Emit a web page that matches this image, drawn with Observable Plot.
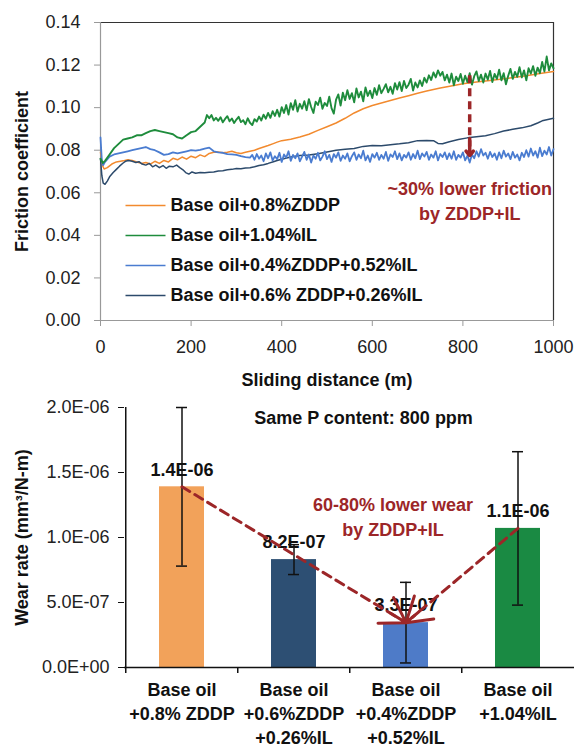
<!DOCTYPE html>
<html><head><meta charset="utf-8">
<script src="https://cdn.jsdelivr.net/npm/d3@7"></script>
<script src="https://cdn.jsdelivr.net/npm/@observablehq/plot@0.6"></script>
<style>
html,body{margin:0;padding:0;background:#fff;}
#chart{width:574px;height:751px;overflow:hidden;font-family:"Liberation Sans",Arial,sans-serif;}
#chart svg{display:block;}
</style></head><body><div id="chart"></div>
<script>
// ---------- Top chart: friction coefficient vs sliding distance ----------
const seriesNames = ["Base oil+0.8%ZDDP", "Base oil+1.04%IL", "Base oil+0.4%ZDDP+0.52%IL", "Base oil+0.6% ZDDP+0.26%IL"];
const seriesColors = ["#f28a2e", "#1e8c3c", "#4a7cd0", "#2c4a6b"];
const seriesWidths = [1.5, 1.9, 1.8, 1.5];
const xTicks = [0, 200, 400, 600, 800, 1000];
const yTicks = [0, 0.02, 0.04, 0.06, 0.08, 0.10, 0.12, 0.14];

const orangeD = [0,4,8,15,25,35,50,60,70,80,90,100,110,120,130,140,150,160,170,180,190,200,210,220,230,240,250,260,270,280,290,300,310,320,330,340,350,360,370,380,390,400,420,440,460,480,500,520,540,560,580,600,620,640,660,680,700,720,750,780,800,830,860,900,940,970,1000];
const orangeF = [0.079,0.073,0.0712,0.0718,0.0735,0.0745,0.075,0.0755,0.0752,0.0745,0.0738,0.0742,0.0735,0.0748,0.0738,0.0752,0.0745,0.0762,0.0755,0.0768,0.0758,0.0772,0.0765,0.0778,0.0770,0.0785,0.0790,0.0792,0.0788,0.0790,0.0795,0.0788,0.0785,0.0790,0.0795,0.0800,0.0808,0.0815,0.0822,0.0830,0.0838,0.0845,0.0852,0.0862,0.0875,0.0893,0.0910,0.0928,0.0950,0.0975,0.0995,0.1010,0.1022,0.1034,0.1045,0.1056,0.1068,0.1078,0.1092,0.1104,0.1112,0.1120,0.1128,0.1138,0.1150,0.1160,0.1170];

const darkD = [0,3,6,10,15,20,28,35,42,50,55,62,70,78,85,92,100,108,115,122,130,138,145,152,160,168,175,182,188,195,202,210,220,230,240,250,260,270,280,290,300,310,320,330,340,350,360,370,380,390,400,420,440,460,480,500,520,540,560,580,600,620,640,660,680,700,720,735,745,755,770,790,810,830,850,870,890,910,930,950,965,975,990,1000];
const darkF = [0.076,0.068,0.0645,0.064,0.0655,0.0675,0.0695,0.071,0.0725,0.074,0.0748,0.0752,0.0748,0.0742,0.0746,0.0735,0.0730,0.0738,0.0722,0.0730,0.0718,0.0728,0.0715,0.0725,0.0722,0.0730,0.0718,0.0708,0.0695,0.0688,0.0698,0.0692,0.0695,0.0694,0.0697,0.0698,0.0702,0.0704,0.0708,0.0710,0.0714,0.0713,0.0716,0.0718,0.0722,0.0728,0.0732,0.0738,0.0745,0.0752,0.0758,0.0768,0.0775,0.0778,0.0783,0.0792,0.0800,0.0804,0.0808,0.0818,0.0822,0.0821,0.0826,0.0830,0.0835,0.0845,0.0846,0.0845,0.0832,0.0830,0.0840,0.0850,0.0858,0.0863,0.0868,0.0878,0.0890,0.0898,0.0905,0.0915,0.0928,0.0938,0.0945,0.0950];

// green: smooth start, then noisy readings every 5 m from 255 m
const greenD = [0,5,10,20,30,40,50,60,70,80,90,100,110,120,130,140,150,160,170,180,190,200,210,220,230,235,240,245,250];
const greenF = [0.076,0.074,0.075,0.078,0.081,0.083,0.085,0.0855,0.086,0.087,0.087,0.088,0.089,0.0895,0.089,0.0885,0.088,0.0875,0.086,0.0855,0.087,0.0885,0.089,0.091,0.093,0.0965,0.095,0.0965,0.094];
const greenNoisyStart = 255;
const noisyStep = 5;
const greenNoisyF = [
0.0952,0.0938,0.0955,0.0931,0.0947,0.0960,0.0936,0.0949,0.0928,0.0944,
0.0957,0.0932,0.0941,0.0922,0.0950,0.0929,0.0918,0.0946,0.0935,0.0958,
0.0940,0.0967,0.0948,0.0975,0.0952,0.0983,0.0961,0.0990,0.0958,0.1002,
0.0975,0.1012,0.0968,0.1021,0.0990,0.1035,0.0982,0.1018,0.0995,0.1030,
0.0988,0.1040,0.1003,0.0975,0.1028,0.1012,0.1047,0.0995,0.1022,0.1008,
0.1051,0.0998,0.0972,0.1038,0.1062,0.1010,0.1070,0.1035,0.1082,0.1041,
0.1068,0.1025,0.1090,0.1048,0.1075,0.1030,0.1095,0.1055,0.1080,0.1045,
0.1092,0.1060,0.1105,0.1068,0.1088,0.1110,0.1072,0.1098,0.1065,0.1115,
0.1085,0.1120,0.1078,0.1125,0.1092,0.1108,0.1135,0.1080,0.1118,0.1095,
0.1128,0.1102,0.1140,0.1118,0.1152,0.1130,0.1165,0.1142,0.1175,0.1150,
0.1168,0.1128,0.1155,0.1118,0.1160,0.1105,0.1145,0.1125,0.1158,0.1112,
0.1150,0.1120,0.1162,0.1108,0.1148,0.1170,0.1125,0.1155,0.1118,0.1160,
0.1132,0.1172,0.1120,0.1158,0.1135,0.1178,0.1128,0.1162,0.1110,0.1150,
0.1182,0.1135,0.1168,0.1145,0.1190,0.1142,0.1175,0.1128,0.1185,0.1160,
0.1195,0.1150,0.1188,0.1162,0.1215,0.1170,0.1240,0.1175,0.1208,0.1185];

// light blue: smooth start, then noisy readings every 5 m from 335 m
const blueD = [0,3,6,10,20,30,40,50,60,70,80,90,100,110,120,130,140,150,160,170,180,190,200,210,220,230,240,250,260,270,280,290,300,310,320,330];
const blueF = [0.086,0.075,0.073,0.0745,0.077,0.078,0.0785,0.079,0.0795,0.080,0.0805,0.081,0.0815,0.0805,0.080,0.079,0.0778,0.0782,0.079,0.0785,0.079,0.0795,0.080,0.0798,0.0802,0.0808,0.0812,0.0795,0.0790,0.0788,0.0782,0.0780,0.0778,0.0772,0.0768,0.0765];
const blueNoisyStart = 335;
const blueNoisyF = [
0.0778,0.0755,0.0782,0.0760,0.0775,0.0748,0.0785,0.0762,0.0790,0.0752,
0.0772,0.0758,0.0788,0.0745,0.0780,0.0765,0.0795,0.0750,0.0778,0.0762,
0.0785,0.0748,0.0770,0.0792,0.0755,0.0780,0.0742,0.0775,0.0760,0.0788,
0.0752,0.0770,0.0795,0.0758,0.0778,0.0745,0.0782,0.0765,0.0790,0.0750,
0.0775,0.0760,0.0785,0.0748,0.0772,0.0790,0.0755,0.0780,0.0762,0.0798,
0.0752,0.0775,0.0745,0.0782,0.0765,0.0788,0.0755,0.0778,0.0760,0.0792,
0.0750,0.0780,0.0768,0.0795,0.0758,0.0785,0.0752,0.0778,0.0765,0.0790,
0.0755,0.0782,0.0762,0.0798,0.0758,0.0785,0.0770,0.0792,0.0755,0.0780,
0.0765,0.0795,0.0752,0.0782,0.0768,0.0790,0.0758,0.0785,0.0760,0.0795,
0.0755,0.0778,0.0765,0.0790,0.0752,0.0775,0.0742,0.0780,0.0762,0.0795,
0.0770,0.0805,0.0775,0.0788,0.0760,0.0792,0.0768,0.0785,0.0755,0.0790,
0.0762,0.0798,0.0770,0.0785,0.0758,0.0792,0.0765,0.0780,0.0752,0.0788,
0.0768,0.0800,0.0770,0.0808,0.0775,0.0795,0.0765,0.0812,0.0772,0.0798,
0.0780,0.0815,0.0775,0.0805];

// friction annotation
const frictionArrow = {x: 815, yStart: 0.115, yEnd: 0.0775};
const frictionNote = {x: 815, y: 0.057, text: "~30% lower friction\nby ZDDP+IL"};

// ---------- Bottom chart: wear rate ----------
const categories = ["Base oil\n+0.8% ZDDP", "Base oil\n+0.6%ZDDP\n+0.26%IL", "Base oil\n+0.4%ZDDP\n+0.52%IL", "Base oil\n+1.04%IL"];
const wearValues = [1.39e-6, 0.83e-6, 0.345e-6, 1.07e-6];
const wearErrors = [0.61e-6, 0.115e-6, 0.31e-6, 0.59e-6];
const wearLabels = ["1.4E-06", "8.2E-07", "3.3E-07", "1.1E-06"];
const barColors = ["#f2a25a", "#2d4f73", "#4e7bc8", "#1a8a43"];
const wearTicks = [0, 5e-7, 1e-6, 1.5e-6, 2e-6];
const wearNote = {cat: 2, y: 1.17e-6, text: "60-80% lower wear\nby ZDDP+IL"};
const headerNote = "Same P content: 800 ppm";

// ---------- build rows ----------
const rows = [];
function addSeries(name, D, F) { D.forEach((d, i) => rows.push({series: name, d, f: F[i]})); }
function addNoisy(name, start, F) { F.forEach((f, i) => rows.push({series: name, d: start + i * noisyStep, f})); }
addSeries(seriesNames[0], orangeD, orangeF);
addSeries(seriesNames[1], greenD, greenF);
addNoisy(seriesNames[1], greenNoisyStart, greenNoisyF);
addSeries(seriesNames[2], blueD, blueF);
addNoisy(seriesNames[2], blueNoisyStart, blueNoisyF);
addSeries(seriesNames[3], darkD, darkF);

const RED = "#9c2628";
const FONT = "'Liberation Sans', Arial, sans-serif";
const lineSymbol = {draw(ctx) { ctx.moveTo(-20, 0); ctx.lineTo(20, 0); }};

const drawOrder = [0, 3, 2, 1];
const lineMarks = drawOrder.map(k => Plot.line(rows.filter(r => r.series === seriesNames[k]), {x: "d", y: "f", stroke: seriesColors[k], strokeWidth: seriesWidths[k], strokeLinejoin: "round"}));
const legendMarks = [];
seriesNames.forEach((name, i) => {
  legendMarks.push(Plot.dot([name], {frameAnchor: "top-left", dx: 45, dy: 183 + i * 30, symbol: lineSymbol, stroke: seriesColors[i], fill: "none", strokeWidth: 1.5}));
  legendMarks.push(Plot.text([name], {frameAnchor: "top-left", dx: 70, dy: 183 + i * 30, text: d => d, textAnchor: "start", lineAnchor: "middle", fontWeight: "bold", fontSize: 18, fill: "#111"}));
});

const topChart = Plot.plot({
  width: 574, height: 392,
  marginLeft: 100, marginRight: 21, marginTop: 22, marginBottom: 72,
  style: {fontFamily: FONT, fontSize: "18px", background: "#fff", color: "#222"},
  x: {domain: [0, 1000]},
  y: {domain: [0, 0.14]},
  marks: [
    Plot.ruleY([0.14], {stroke: "#333", strokeWidth: 1.2}),
    Plot.ruleX([1000], {stroke: "#333", strokeWidth: 1.2}),
    Plot.ruleX([0], {stroke: "#999", strokeWidth: 1.2}),
    Plot.ruleY([0], {stroke: "#999", strokeWidth: 1.2}),
    Plot.axisY({ticks: yTicks, tickSize: 6, tickPadding: 14, tickFormat: d => d.toFixed(2), stroke: "#999", fill: "#222", label: null, fontSize: 18}),
    Plot.axisX({ticks: xTicks, tickSize: 6, tickPadding: 14, tickFormat: d => String(d), stroke: "#999", fill: "#222", label: null, fontSize: 18}),
    ...lineMarks,
    ...legendMarks,
    Plot.ruleX([frictionArrow], {x: "x", y1: "yStart", y2: d => d.yEnd + 0.004, stroke: RED, strokeWidth: 3.5, strokeDasharray: "8,5"}),
    Plot.arrow([frictionArrow], {x1: "x", x2: "x", y1: d => d.yEnd + 0.008, y2: "yEnd", stroke: RED, strokeWidth: 3.5, headLength: 16, headAngle: 80}),
    Plot.text([frictionNote], {x: "x", y: "y", text: "text", fill: RED, fontWeight: "bold", fontSize: 18, lineHeight: 1.4, lineAnchor: "middle"}),
    Plot.text(["Friction coefficient"], {frameAnchor: "left", dx: -78, rotate: -90, text: d => d, textAnchor: "middle", fontWeight: "bold", fontSize: 18, fill: "#111"}),
    Plot.text(["Sliding distance (m)"], {frameAnchor: "bottom", dy: 60, text: d => d, fontWeight: "bold", fontSize: 18, fill: "#111", lineAnchor: "middle"})
  ]
});

const fmtE = v => {
  const [m, e] = v.toExponential(1).split("e");
  const s = e[0] === "-" ? "-" : "+";
  return `${m}E${s}${String(Math.abs(+e)).padStart(2, "0")}`;
};

const bars = categories.map((c, i) => ({cat: c, value: wearValues[i], lo: wearValues[i] - wearErrors[i], hi: wearValues[i] + wearErrors[i], label: wearLabels[i], color: barColors[i]}));
const halfStep = 56.25;

const bottomChart = Plot.plot({
  width: 574, height: 359,
  marginLeft: 124, marginRight: 0, marginTop: 15, marginBottom: 84,
  style: {fontFamily: FONT, fontSize: "18px", background: "#fff", color: "#111"},
  x: {domain: categories, paddingInner: 0.6, paddingOuter: 0.3},
  y: {domain: [0, 2e-6]},
  color: {type: "identity"},
  marks: [
    Plot.barY(bars, {x: "cat", y: "value", fill: "color"}),
    Plot.text(bars, {x: "cat", y: "value", text: "label", dy: -17, fontWeight: "bold", fontSize: 18, fill: "#111"}),
    Plot.ruleX(bars, {x: "cat", y1: "lo", y2: "hi", stroke: "#111", strokeWidth: 1.5}),
    Plot.tickY(bars, {x: "cat", y: "lo", stroke: "#111", strokeWidth: 1.5, insetLeft: 17, insetRight: 17}),
    Plot.tickY(bars, {x: "cat", y: "hi", stroke: "#111", strokeWidth: 1.5, insetLeft: 17, insetRight: 17}),
    Plot.ruleY([0], {stroke: "#111", strokeWidth: 1.5}),
    Plot.ruleX([categories[0]], {x: d => d, y1: 0, y2: 2e-6, dx: -halfStep, stroke: "#111", strokeWidth: 1.5}),
    Plot.ruleX(categories, {x: d => d, y1: 0, y2: 0, dx: -halfStep, insetTop: 6, stroke: "#111", strokeWidth: 1.5}),
    Plot.axisY({ticks: wearTicks, tickSize: 6, tickPadding: 9, tickFormat: fmtE, stroke: "#111", fill: "#222", label: null, fontSize: 18}),
    Plot.axisX({tickSize: 0, tickPadding: 12, label: null, fontSize: 18, fontWeight: "bold", lineHeight: 1.33, fill: "#111"}),
    // dashed arrows toward the ZDDP+IL bar
    Plot.arrow([[0, 2], [3, 2]], {x1: d => categories[d[0]], y1: d => wearValues[d[0]], x2: d => categories[d[1]], y2: d => wearValues[d[1]], stroke: RED, strokeWidth: 3, strokeDasharray: "9,6", headLength: 0, insetEnd: 8}),
    Plot.arrow([[0, 2]], {x1: d => categories[d[0]], y1: d => wearValues[d[0]], x2: d => categories[d[1]], y2: d => wearValues[d[1]], stroke: RED, strokeWidth: 3, headLength: 14, headAngle: 65, insetStart: 244}),
    Plot.arrow([[3, 2]], {x1: d => categories[d[0]], y1: d => wearValues[d[0]], x2: d => categories[d[1]], y2: d => wearValues[d[1]], stroke: RED, strokeWidth: 3, headLength: 14, headAngle: 65, insetStart: 130}),
    Plot.text([wearNote], {x: d => categories[d.cat], y: "y", dx: -13, text: "text", fill: RED, fontWeight: "bold", fontSize: 18, lineHeight: 1.4, lineAnchor: "middle"}),
    Plot.text([headerNote], {frameAnchor: "top", dx: 14, dy: 11, text: d => d, fontWeight: "bold", fontSize: 18, fill: "#111", lineAnchor: "middle"}),
    Plot.text(["Wear rate (mm³/N-m)"], {frameAnchor: "left", dx: -102, rotate: -90, text: d => d, textAnchor: "middle", fontWeight: "bold", fontSize: 18, fill: "#111"})
  ]
});

const root = document.getElementById("chart");
root.appendChild(topChart);
root.appendChild(bottomChart);
</script></body></html>
